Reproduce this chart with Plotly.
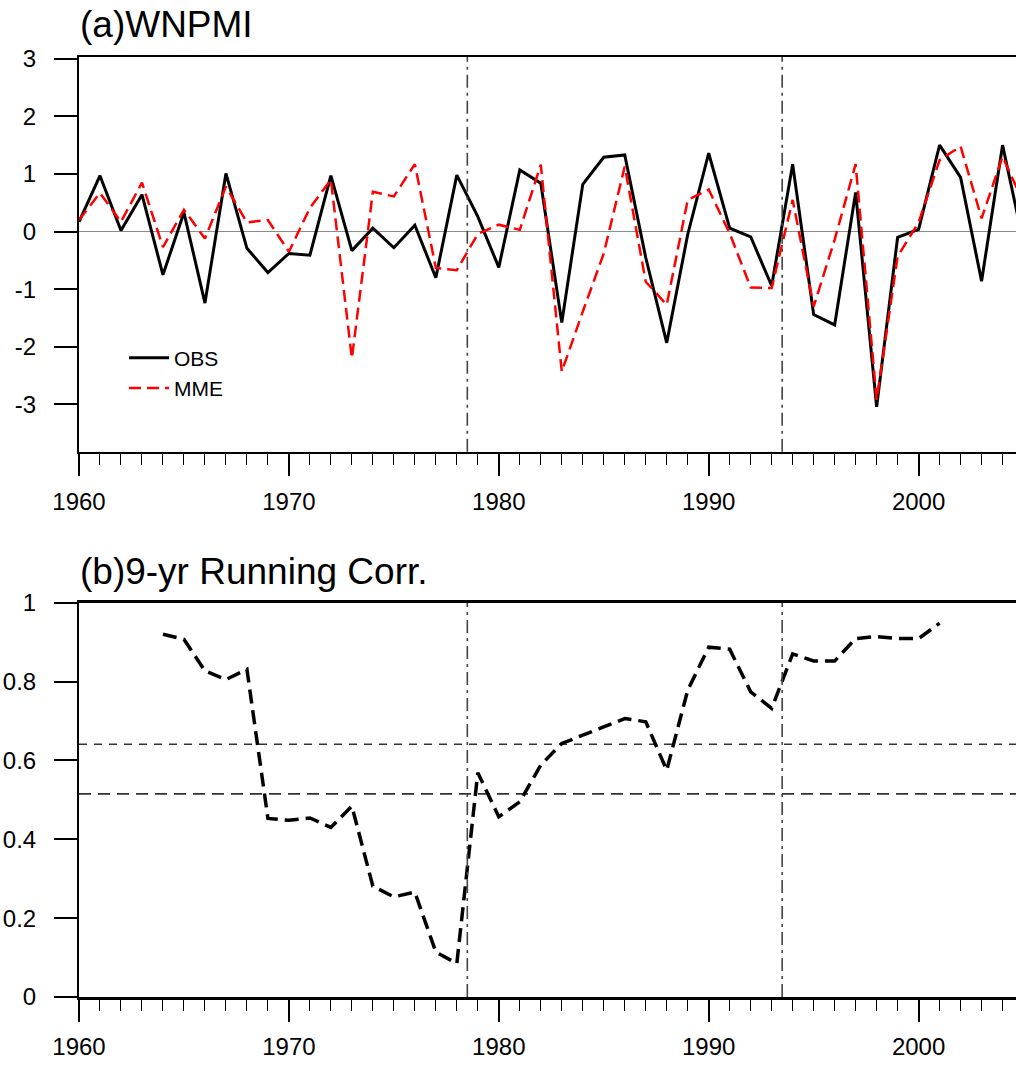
import plotly.graph_objects as go

# ---------------- data ----------------
years = list(range(1960, 2006))
obs = [0.17, 0.97, 0.02, 0.64, -0.75, 0.33, -1.24, 1.01, -0.29, -0.71,
       -0.38, -0.41, 0.97, -0.33, 0.06, -0.28, 0.11, -0.80, 0.98, 0.26,
       -0.62, 1.07, 0.84, -1.58, 0.82, 1.29, 1.33, -0.45, -1.93, -0.05,
       1.36, 0.06, -0.09, -0.94, 1.17, -1.44, -1.62, 0.68, -3.04, -0.10,
       0.04, 1.50, 0.94, -0.86, 1.50, -0.20]
mme = [0.20, 0.67, 0.17, 0.85, -0.27, 0.38, -0.12, 0.78, 0.16, 0.20,
       -0.35, 0.41, 0.90, -2.20, 0.69, 0.61, 1.17, -0.63, -0.67, -0.04,
       0.12, 0.03, 1.16, -2.43, -1.39, -0.38, 1.13, -0.87, -1.27, 0.55,
       0.73, -0.03, -0.97, -0.98, 0.55, -1.30, -0.14, 1.17, -2.92, -0.43,
       0.16, 1.24, 1.48, 0.23, 1.30, 0.50]

corr_years = list(range(1964, 2002))
corr = [0.920, 0.907, 0.827, 0.805, 0.831, 0.453, 0.448, 0.454, 0.430, 0.484,
        0.281, 0.254, 0.266, 0.114, 0.085, 0.569, 0.457, 0.495, 0.588, 0.643,
        0.664, 0.685, 0.706, 0.698, 0.575, 0.778, 0.887, 0.882, 0.774, 0.732,
        0.870, 0.852, 0.852, 0.909, 0.914, 0.909, 0.909, 0.948]

split_years = [1978.5, 1993.5]
sig_levels = [0.641, 0.515]

x_ticks = [1960, 1970, 1980, 1990, 2000]
x_ticklabels = ["1960", "1970", "1980", "1990", "2000"]
ya_ticks = [-3, -2, -1, 0, 1, 2, 3]
ya_ticklabels = ["-3", "-2", "-1", "0", "1", "2", "3"]
yb_ticks = [0, 0.2, 0.4, 0.6, 0.8, 1]
yb_ticklabels = ["0", "0.2", "0.4", "0.6", "0.8", "1"]

# ---------------- figure ----------------
FONT = "Liberation Sans, Arial, Helvetica, sans-serif"
fig = go.Figure()

fig.add_trace(go.Scatter(x=years, y=obs, mode="lines", name="OBS",
                         line=dict(color="black", width=3),
                         xaxis="x", yaxis="y"))
fig.add_trace(go.Scatter(x=years, y=mme, mode="lines", name="MME",
                         line=dict(color="red", width=2.5, dash="12px,6px"),
                         xaxis="x", yaxis="y"))
fig.add_trace(go.Scatter(x=corr_years, y=corr, mode="lines", showlegend=False,
                         line=dict(color="black", width=3.5, dash="14px,7px"),
                         xaxis="x2", yaxis="y2"))

for yr in split_years:
    for xr, yr_ref in (("x", "y domain"), ("x2", "y2 domain")):
        fig.add_shape(type="line", xref=xr, yref=yr_ref, x0=yr, x1=yr, y0=0, y1=1,
                      line=dict(color="#444444", width=1.6, dash="13px,5px,3px,5px"),
                      layer="above")

for lvl, dsh in zip(sig_levels, ["8px,7px", "12px,7px"]):
    fig.add_shape(type="line", xref="x2 domain", yref="y2", x0=0, x1=1, y0=lvl, y1=lvl,
                  line=dict(color="#333333", width=1.6, dash=dsh), layer="below")

xrange = [1960, 2004.64]
common_x = dict(range=xrange, tickvals=x_ticks, ticktext=x_ticklabels,
                ticks="outside", ticklen=22, tickwidth=2, tickcolor="black",
                showline=True, linecolor="black", linewidth=2.5, mirror=True,
                showgrid=False, zeroline=False, automargin=False,
                tickfont=dict(family=FONT, size=24, color="black"),
                ticklabelstandoff=5,
                minor=dict(dtick=1, tick0=1960, ticks="outside", ticklen=11,
                           tickwidth=1, tickcolor="black", showgrid=False))
common_y = dict(ticks="outside", ticklen=23, tickwidth=2, tickcolor="black",
                showline=True, linecolor="black", linewidth=2, mirror=False,
                showgrid=False, automargin=False,
                tickfont=dict(family=FONT, size=24, color="black"),
                ticklabelstandoff=13)

fig.update_layout(
    width=1016, height=1066,
    margin=dict(l=78.5, r=0, t=57, b=69, autoexpand=False),
    paper_bgcolor="white", plot_bgcolor="white",
    font=dict(family=FONT, color="black"),
    xaxis=dict(**common_x, domain=[0, 1], anchor="y"),
    yaxis=dict(**common_y, domain=[0.5801, 1], anchor="x",
               range=[-3.82, 3.03], tickvals=ya_ticks, ticktext=ya_ticklabels,
               zeroline=True, zerolinecolor="#8c8c8c", zerolinewidth=1.5),
    xaxis2=dict(**common_x, domain=[0, 1], anchor="y2"),
    yaxis2=dict(**common_y, domain=[0, 0.4195], anchor="x2",
                range=[0, 1], tickvals=yb_ticks, ticktext=yb_ticklabels,
                zeroline=False),
    legend=dict(x=0.048, y=0.7015, xanchor="left", yanchor="top",
                bgcolor="rgba(0,0,0,0)", borderwidth=0,
                font=dict(family=FONT, size=21, color="black"),
                tracegroupgap=0, itemwidth=40),
    showlegend=True,
    annotations=[
        dict(text="(a)WNPMI", xref="paper", yref="paper", x=-0.001, y=1.035,
             xanchor="left", yanchor="middle", showarrow=False,
             font=dict(family=FONT, size=37, color="black")),
        dict(text="(b)9-yr Running Corr.", xref="paper", yref="paper", x=-0.001, y=0.453,
             xanchor="left", yanchor="middle", showarrow=False,
             font=dict(family=FONT, size=37, color="black")),
    ],
)

# remove the browser's default 8px page margin so the figure sits at the window origin
fig.write_html("out.html",
               config={"displayModeBar": False, "staticPlot": True},
               post_script="document.body.style.margin='0';document.body.style.overflow='hidden';")
